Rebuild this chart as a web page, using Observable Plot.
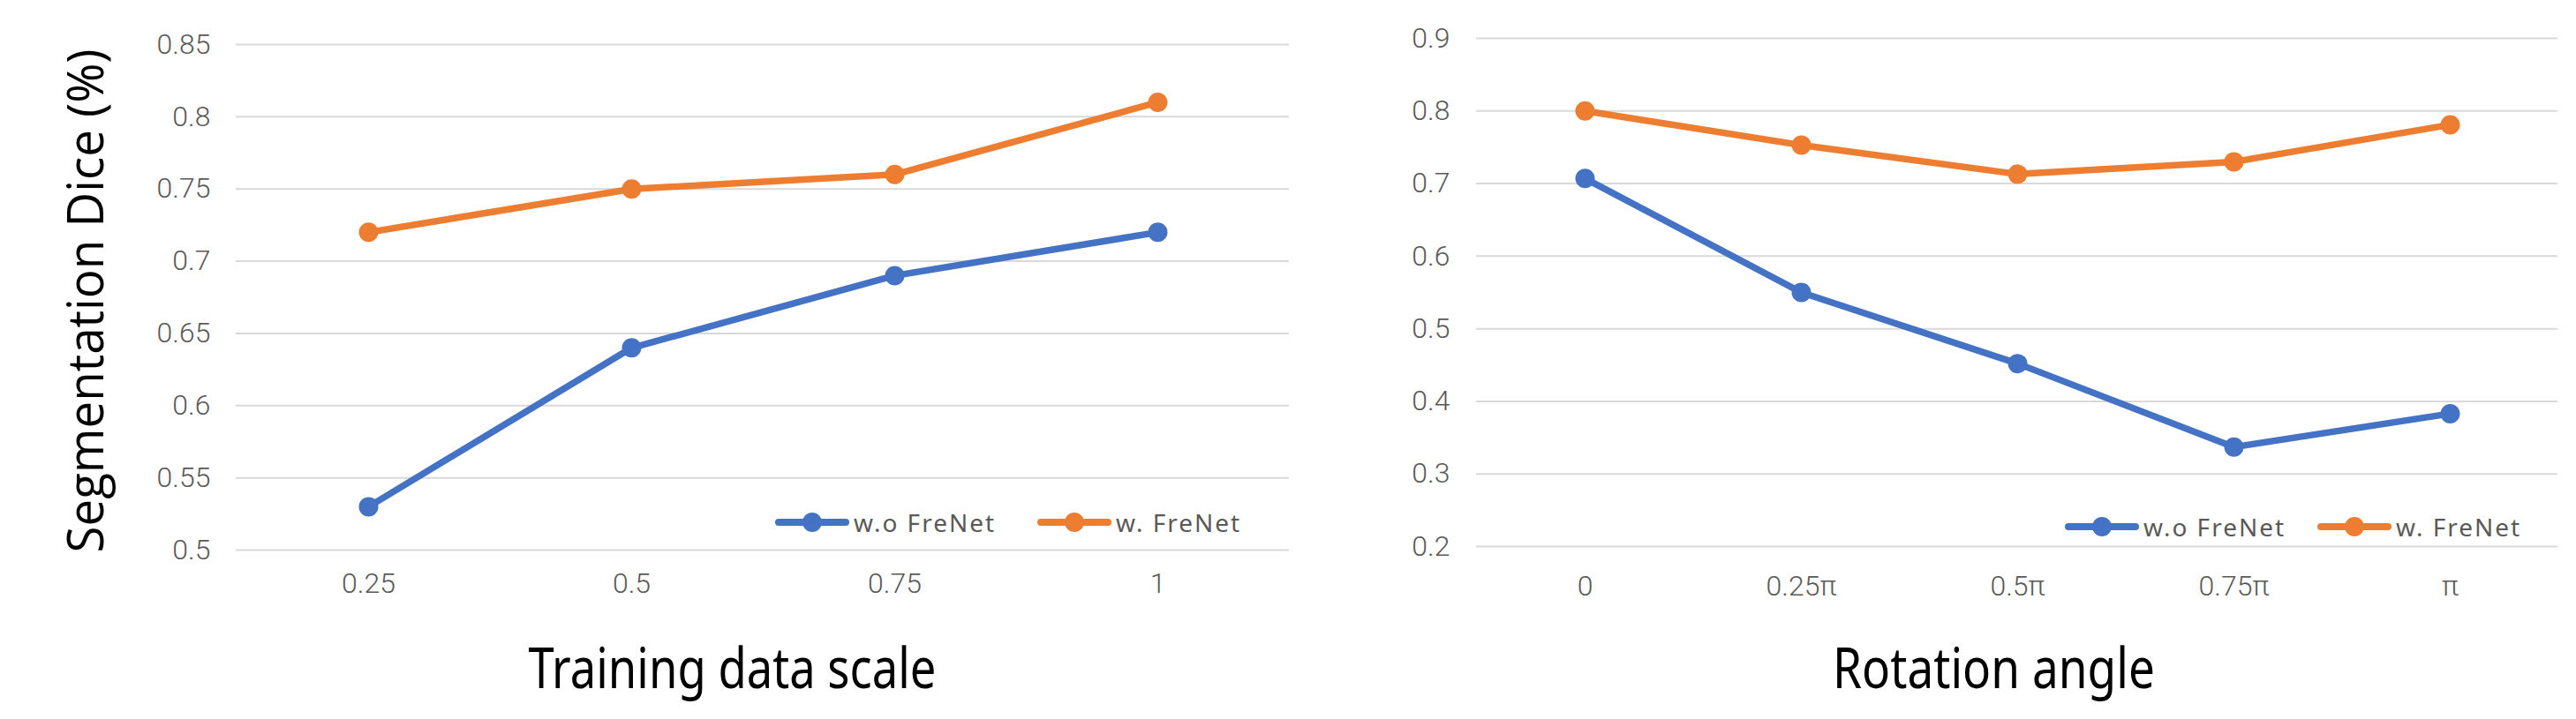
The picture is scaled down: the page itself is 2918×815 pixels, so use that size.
<!DOCTYPE html>
<html>
<head>
<meta charset="utf-8">
<script src="https://cdn.jsdelivr.net/npm/d3@7"></script>
<script src="https://cdn.jsdelivr.net/npm/@observablehq/plot@0.6"></script>
<style>
  html, body { margin: 0; padding: 0; background: #ffffff; }
  #page { position: relative; width: 2918px; height: 815px; overflow: hidden; background: #ffffff; }
  .chart { position: absolute; top: 0; }
  .legend-item { position: absolute; display: flex; align-items: center; height: 30px;
    font-family: "Noto Sans", Roboto, sans-serif; font-size: 28px; letter-spacing: 2px; color: #595959; white-space: nowrap; }
  .legend-item span { margin-left: 5px; }
</style>
</head>
<body>
<div id="page">
  <div id="left" class="chart" style="left:0px"></div>
  <div id="right" class="chart" style="left:1460px"></div>
</div>
<script>
// ---- data ----
const seriesNames = ["w.o FreNet", "w. FreNet"];
const seriesColors = ["#4472C4", "#ED7D31"];

const scaleLabels = ["0.25", "0.5", "0.75", "1"];
const scaleWithout = [0.53, 0.64, 0.69, 0.72];
const scaleWith = [0.72, 0.75, 0.76, 0.81];
const scaleTicks = [0.5, 0.55, 0.6, 0.65, 0.7, 0.75, 0.8, 0.85];

const angleLabels = ["0", "0.25π", "0.5π", "0.75π", "π"];
const angleWithout = [0.707, 0.55, 0.452, 0.337, 0.383];
const angleWith = [0.80, 0.753, 0.713, 0.73, 0.781];
const angleTicks = [0.2, 0.3, 0.4, 0.5, 0.6, 0.7, 0.8, 0.9];

const yTitle = "Segmentation Dice (%)";
const leftXTitle = "Training data scale";
const rightXTitle = "Rotation angle";

// ---- helpers ----
const rows = (labels, a, b) => labels.flatMap((l, i) => [
  {x: l, y: a[i], s: seriesNames[0]},
  {x: l, y: b[i], s: seriesNames[1]}
]);
const fmt = d => String(+d.toFixed(2));

function makeChart(cfg) {
  const data = rows(cfg.labels, cfg.a, cfg.b);
  const marks = [
    Plot.gridY(cfg.ticks, {stroke: "#d9d9d9", strokeWidth: 2, strokeOpacity: 1}),
    Plot.axisY(cfg.ticks, {tickSize: 0, tickPadding: cfg.yPad, fontSize: 32, fontWeight: 300,
      fontFamily: "Roboto", fill: "#595959", tickFormat: fmt, label: null}),
    Plot.axisX({tickSize: 0, tickPadding: cfg.xPad, fontSize: 32, fontWeight: 300,
      fontFamily: "Roboto", fill: "#595959", label: null}),
    Plot.line(data, {x: "x", y: "y", stroke: "s", strokeWidth: 7.5,
      strokeLinecap: "round", strokeLinejoin: "round"}),
    Plot.dot(data, {x: "x", y: "y", fill: "s", r: 11, stroke: "none"}),
    Plot.text([cfg.xTitle], {text: d => d, frameAnchor: "bottom", textAnchor: "middle", lineAnchor: "middle",
      dx: cfg.titleDx, dy: cfg.titleDy, fontSize: 64, fontFamily: "Noto Sans", fill: "#000000"})
  ];
  if (cfg.yTitle) {
    marks.push(Plot.text([cfg.yTitle], {text: d => d, frameAnchor: "left", textAnchor: "middle", lineAnchor: "middle",
      rotate: -90, dx: -168, dy: 4, fontSize: 56, fontFamily: "Open Sans", fill: "#000000"}));
  }
  const svg = Plot.plot({
    width: cfg.width, height: 815,
    marginLeft: cfg.ml, marginRight: cfg.mr, marginTop: cfg.mt, marginBottom: cfg.mb,
    style: {background: "#ffffff", fontFamily: "Roboto", overflow: "visible"},
    x: {type: "point", domain: cfg.labels, padding: 0.5, label: null},
    y: {domain: cfg.domain, label: null},
    color: {domain: seriesNames, range: seriesColors},
    marks
  });
  // condense titles to the reference's narrow title face
  svg.querySelectorAll("text").forEach(t => {
    const s = t.textContent;
    if (s === cfg.xTitle) { t.setAttribute("textLength", cfg.xTitleLen); t.setAttribute("lengthAdjust", "spacingAndGlyphs"); }
    if (cfg.yTitle && s === cfg.yTitle) { t.setAttribute("textLength", 571); t.setAttribute("lengthAdjust", "spacingAndGlyphs"); }
  });
  return svg;
}

document.getElementById("left").appendChild(makeChart({
  width: 1460, ml: 267, mr: 0, mt: 50, mb: 192,
  labels: scaleLabels, a: scaleWithout, b: scaleWith, ticks: scaleTicks, domain: [0.5, 0.85],
  yPad: 29, xPad: 26, xTitle: leftXTitle, xTitleLen: 462, titleDx: -34.5, titleDy: 136, yTitle
}));
document.getElementById("right").appendChild(makeChart({
  width: 1458, ml: 212, mr: 21, mt: 43, mb: 196,
  labels: angleLabels, a: angleWithout, b: angleWith, ticks: angleTicks, domain: [0.2, 0.9],
  yPad: 30, xPad: 33, xTitle: rightXTitle, xTitleLen: 365, titleDx: -26.5, titleDy: 140
}));

// ---- legends (HTML overlay) ----
const legendPlacement = [
  {lefts: [878, 1175], top: 592},
  {lefts: [2339, 2625], top: 597}
];
const page = document.getElementById("page");
legendPlacement.forEach(p => {
  seriesNames.forEach((name, i) => {
    const item = document.createElement("div");
    item.className = "legend-item";
    item.style.left = p.lefts[i] + "px";
    item.style.top = (p.top - 15) + "px";
    const c = seriesColors[i];
    item.innerHTML = `<svg width="84" height="30" style="display:block"><line x1="4" x2="80" y1="15" y2="15" stroke="${c}" stroke-width="8" stroke-linecap="round"/><circle cx="42" cy="15" r="11" fill="${c}"/></svg><span>${name}</span>`;
    page.appendChild(item);
  });
});
</script>
</body>
</html>
